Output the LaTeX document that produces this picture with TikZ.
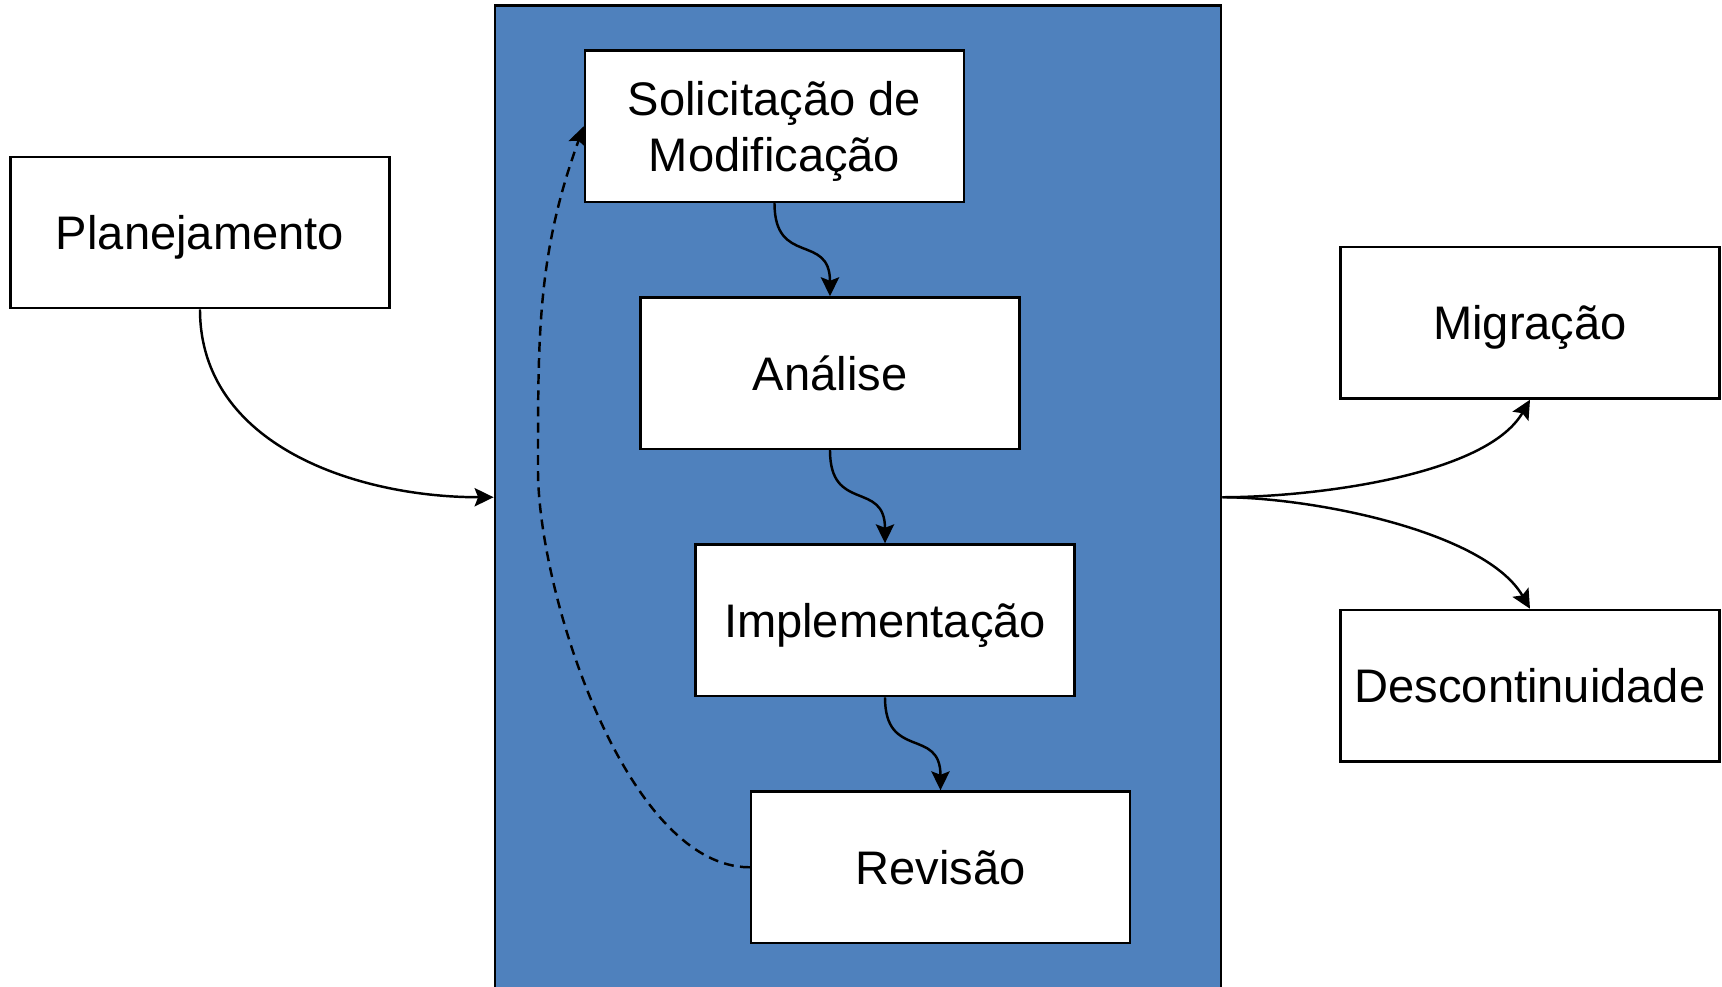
\documentclass[tikz,border=0pt]{standalone}
\usepackage{fontspec}
\setmainfont{Liberation Sans}
\definecolor{fasblue}{HTML}{4F81BD}
\usetikzlibrary{arrows.meta, positioning}

\tikzset{
  stage/.style={draw=black, fill=white, line width=0.7pt, minimum width=3.79cm, minimum height=1.515cm, align=center, inner sep=2pt, text depth=0pt, font=\fontsize{13.4}{16}\selectfont},
  flow/.style={line width=0.7pt, -{Stealth[length=5.4pt, width=5.2pt, inset=1pt]}},
}

\begin{document}
\begin{tikzpicture}
  \useasboundingbox (0,0) rectangle (17.22,9.87);

  % Manutencao (blue frame)
  \node[draw=black, fill=fasblue, line width=0.8pt, minimum width=7.26cm, minimum height=9.835cm] (manut) at (8.58, 4.8975) {};

  % Stages
  \node[stage] (plan) at (2.00, 7.545) {Planejamento};
  \node[stage] (sol) at (7.745, 8.6075) {Solicitação de\\Modificação};
  \node[stage] (ana) at (8.30, 6.1375) {Análise};
  \node[stage] (imp) at (8.85, 3.667) {Implementação};
  \node[stage] (rev) at (9.405, 1.197) {Revisão};
  \node[stage] (mig) at (15.30, 6.642) {Migração};
  \node[stage] (desc) at (15.30, 3.0125) {Descontinuidade};

  % Flow inside the frame
  \draw[flow] (sol.south) to[out=-90, in=90, looseness=1.5] (ana.north);
  \draw[flow] (ana.south) to[out=-90, in=90, looseness=1.5] (imp.north);
  \draw[flow] (imp.south) to[out=-90, in=90, looseness=1.5] (rev.north);

  % Loop back
  \coordinate (volta) at (5.38, 5.17);
  \draw[flow, dash pattern=on 2.8pt off 1.8pt] (rev.west) to[out=180, in=-90, looseness=0.7] (volta) to[out=90, in=-110] (sol.west);

  % Into and out of the frame
  \draw[flow] (plan.south) to[out=-90, in=180] (manut.west);
  \draw[flow] (manut.east) to[out=0, in=-120, looseness=0.7] (mig.south);
  \draw[flow] (manut.east) to[out=0, in=120, looseness=0.7] (desc.north);
\end{tikzpicture}
\end{document}
